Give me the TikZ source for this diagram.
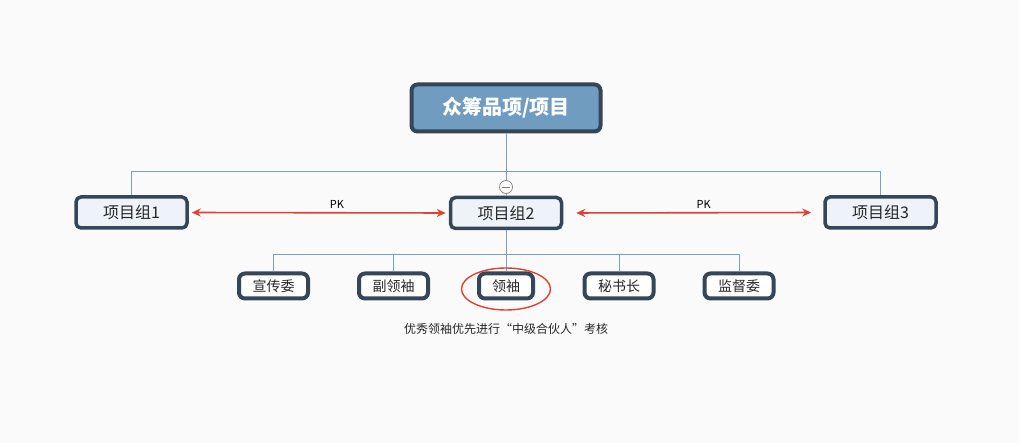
\documentclass[tikz,border=0pt]{standalone}
\usepackage{fontspec}
\setmainfont{Noto Sans CJK SC}
\usepackage{tikz}
\usetikzlibrary{arrows.meta,positioning,shapes.geometric}
\definecolor{rootfill}{RGB}{112,157,191}
\definecolor{boxborder}{RGB}{52,70,88}
\definecolor{groupfill}{RGB}{237,243,248}
\definecolor{treeline}{RGB}{122,160,190}
\definecolor{pkred}{RGB}{222,66,48}
\definecolor{canvas}{RGB}{250,250,250}

\begin{document}
\begin{tikzpicture}[x=1pt, y=-1pt, >=Stealth,
    rootbox/.style={draw=boxborder, line width=4pt, fill=rootfill, rounded corners=6pt,
        minimum width=189pt, minimum height=47pt, text=white, font=\fontsize{20}{24}\selectfont\bfseries},
    groupbox/.style={draw=boxborder, line width=3.5pt, fill=groupfill, rounded corners=5pt,
        minimum width=111pt, minimum height=31pt, text=black!85, font=\fontsize{16}{19}\selectfont},
    rolebox/.style={draw=boxborder, line width=4pt, fill=white, rounded corners=6pt,
        minimum width=69pt, minimum height=25pt, text=black!85, font=\fontsize{14}{17}\selectfont},
    branch/.style={draw=treeline, line width=0.8pt},
    pkarrow/.style={{Stealth[length=9pt,width=8pt]}-{Stealth[length=9pt,width=8pt]}, draw=pkred, line width=1.6pt},
    pklabel/.style={font=\fontsize{11}{13}\selectfont, text=black, inner sep=1pt}]
    % Background and page size
    \fill[canvas] (0,0) rectangle (1019,443);
    \useasboundingbox (0,0) rectangle (1019,443);

    % Bus levels
    \coordinate (topbus) at (0,171);
    \coordinate (lowbus) at (0,254);

    % Root
    \node[rootbox] (root) at (506,108) {众筹品项/项目};

    % Project groups
    \node[groupbox] (g1) at (131.5,212.5) {项目组1};
    \node[groupbox] (g2) at (506,213) {项目组2};
    \node[groupbox] (g3) at (880.5,212.5) {项目组3};

    % Roles under group 2
    \node[rolebox] (c1) at (273.5,286) {宣传委};
    \node[rolebox] (c2) at (393.5,286) {副领袖};
    \node[rolebox, minimum width=54pt] (c3) at (506,286) {领袖};
    \node[rolebox] (c4) at (619,286) {秘书长};
    \node[rolebox] (c5) at (739,286) {监督委};

    % Tree from root to groups
    \draw[branch] (g1.north) -- (g1.north |- topbus) -- (g3.north |- topbus) -- (g3.north);
    \node[circle, draw=gray, fill=white, line width=0.7pt, minimum size=13pt, inner sep=0pt] (fold) at (506,187) {};
    \draw[branch] (root.south) -- (fold.north);
    \draw[branch] (fold.south) -- (g2.north);
    \draw[gray, line width=0.8pt] ([xshift=3pt]fold.west) -- ([xshift=-3pt]fold.east);

    % Tree from group 2 to roles
    \draw[branch] (g2.south) -- (g2.south |- lowbus);
    \draw[branch] (c1.north) -- (c1.north |- lowbus) -- (c5.north |- lowbus) -- (c5.north);
    \foreach \n in {c2,c3,c4}
        \draw[branch] (\n.north) -- (\n.north |- lowbus);

    % PK arrows
    \draw[pkarrow, shorten <=3pt, shorten >=3pt] (g1.east) -- node[pklabel, pos=0.57, above=2.5pt] {PK} (g2.west);
    \draw[pkarrow, shorten <=13pt, shorten >=12pt] (g2.east) -- node[pklabel, pos=0.54, above=2.5pt] {PK} (g3.west);

    % Highlight and note
    \node[ellipse, draw=pkred, line width=1.4pt, minimum width=89pt, minimum height=42pt] (mark) at (506,289) {};
    \node[font=\fontsize{12}{14}\selectfont, text=black!85] (note) at (506,329) {优秀领袖优先进行“中级合伙人”考核};
\end{tikzpicture}
\end{document}
